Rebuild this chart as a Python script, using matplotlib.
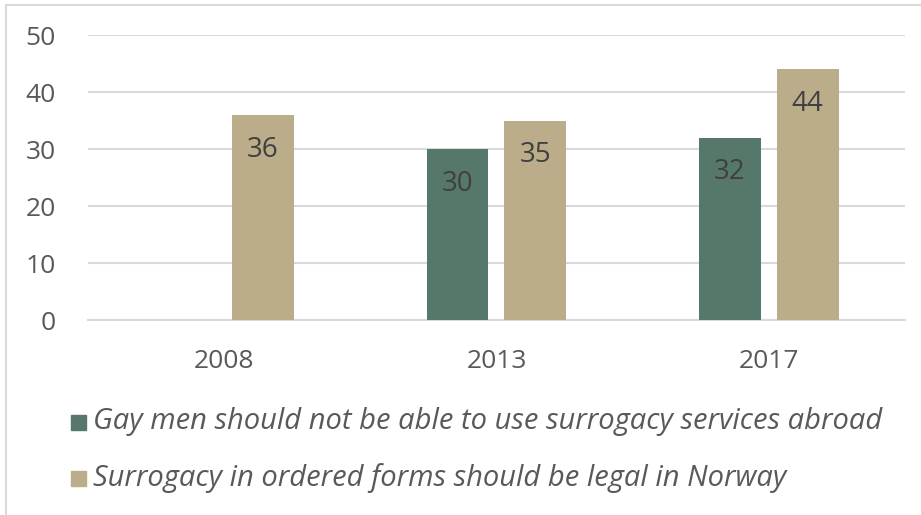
import matplotlib.pyplot as plt
import numpy as np
from matplotlib.lines import Line2D
from matplotlib.patches import Rectangle

years = ["2008", "2013", "2017"]
gay_men_abroad = [None, 30, 32]
legal_in_norway = [36, 35, 44]
series_names = ["Gay men should not be able to use surrogacy services abroad",
                "Surrogacy in ordered forms should be legal in Norway"]
yticks = [0, 10, 20, 30, 40, 50]

GREEN = "#56786a"
TAN = "#bbad8a"
TEXT = "#404040"
AXIS_TEXT = "#595959"
GRID = "#d9d9d9"

plt.rcParams['font.family'] = ['Open Sans', 'DejaVu Sans']

fig = plt.figure(figsize=(9.21, 5.15), dpi=100)
ax = fig.add_axes([0.0955, 0.3786, 0.8871, 0.5534])

x = np.arange(len(years))
width = 0.227
offset = 0.143

for vals, color, dx in ((gay_men_abroad, GREEN, -offset),
                        (legal_in_norway, TAN, offset)):
    for xi, v in zip(x, vals):
        if v is None:
            continue
        ax.bar(xi + dx, v, width, color=color, zorder=3)
        ax.annotate(str(v), (xi + dx, v), xytext=(0, -15),
                    textcoords="offset points", ha="center", va="top",
                    fontsize=20, color=TEXT, zorder=4)

ax.set_xlim(-0.5, 2.5)
ax.set_ylim(0, 50)
ax.set_yticks(yticks)
ax.set_xticks(x)
ax.set_xticklabels(years)
ax.grid(axis="y", color=GRID, linewidth=1.5, zorder=0)
for side in ("top", "right", "left"):
    ax.spines[side].set_visible(False)
ax.spines["bottom"].set_color(GRID)
ax.spines["bottom"].set_linewidth(1.5)
ax.tick_params(length=0, labelsize=19, labelcolor=AXIS_TEXT)
ax.tick_params(axis="y", pad=23)
ax.tick_params(axis="x", pad=21)

# legend drawn by hand, one row per series
for i, (name, color) in enumerate(zip(series_names, (GREEN, TAN))):
    yc = 1 - (422 + i * 56) / 515
    fig.patches.append(Rectangle((71 / 921, yc - 8 / 515), 15 / 921, 15 / 515,
                                 transform=fig.transFigure, color=color))
    fig.text(93 / 921, yc, name, fontsize=21, style="italic",
             color=AXIS_TEXT, va="center", ha="left")

# chart frame
fig.add_artist(Line2D([6 / 921, 6 / 921], [0, 1 - 5 / 515],
                      transform=fig.transFigure, color=GRID, linewidth=1.5))
fig.add_artist(Line2D([6 / 921, 1], [1 - 5 / 515, 1 - 5 / 515],
                      transform=fig.transFigure, color=GRID, linewidth=1.5))

fig.savefig("out.png", dpi=100)
